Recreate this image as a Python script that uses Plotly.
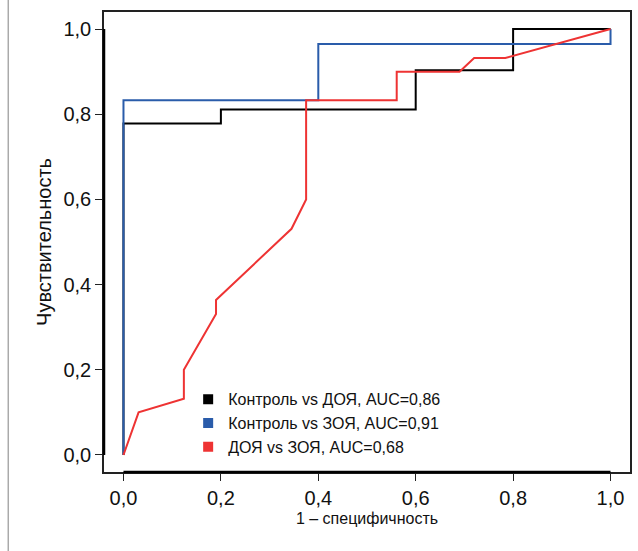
import plotly.graph_objects as go

# Контроль vs ДОЯ
fpr_k_doy = [0.0, 0.0, 0.2, 0.2, 0.6, 0.6, 0.8, 0.8, 1.0]
tpr_k_doy = [0.0, 0.778, 0.778, 0.811, 0.811, 0.903, 0.903, 1.0, 1.0]

# Контроль vs ЗОЯ
fpr_k_zoy = [0.0, 0.0, 0.4, 0.4, 1.0, 1.0]
tpr_k_zoy = [0.0, 0.833, 0.833, 0.965, 0.965, 1.0]

# ДОЯ vs ЗОЯ
fpr_doy_zoy = [0.0, 0.031, 0.124, 0.124, 0.19, 0.19, 0.345, 0.375, 0.375, 0.561, 0.561, 0.69, 0.72, 0.784, 1.0]
tpr_doy_zoy = [0.0, 0.1, 0.132, 0.2, 0.331, 0.364, 0.531, 0.6, 0.833, 0.833, 0.9, 0.9, 0.932, 0.932, 1.0]

names = ["Контроль vs ДОЯ, AUC=0,86", "Контроль vs ЗОЯ, AUC=0,91", "ДОЯ vs ЗОЯ, AUC=0,68"]
colors = ["#000000", "#2a5caa", "#ee3333"]

tick_vals = [0.0, 0.2, 0.4, 0.6, 0.8, 1.0]
tick_text = ["0,0", "0,2", "0,4", "0,6", "0,8", "1,0"]

FONT = "Liberation Sans, Arial, sans-serif"

fig = go.Figure()
series = [(fpr_k_doy, tpr_k_doy), (fpr_k_zoy, tpr_k_zoy), (fpr_doy_zoy, tpr_doy_zoy)]
for (xs, ys), c in zip(series, colors):
    fig.add_trace(go.Scatter(x=xs, y=ys, mode="lines", line=dict(color=c, width=2),
                             showlegend=False, hoverinfo="skip"))
for n, c in zip(names, colors):
    fig.add_trace(go.Scatter(x=[None], y=[None], mode="markers", name=n,
                             marker=dict(symbol="square", size=10, color=c)))

axis_common = dict(
    range=[-0.04, 1.04], tickvals=tick_vals, ticktext=tick_text,
    showgrid=False, zeroline=False, ticks="outside", ticklen=7, tickwidth=1.2,
    tickcolor="#222", showline=True, mirror=True, linecolor="#222", linewidth=1.5,
    tickfont=dict(size=20, color="#111", family=FONT),
)

fig.update_layout(
    width=638, height=551,
    margin=dict(l=104, r=6, t=12, b=79),
    paper_bgcolor="white", plot_bgcolor="white",
    font=dict(family=FONT, color="#111"),
    xaxis=dict(**axis_common, title=dict(text="1 – специфичность", font=dict(size=16, family=FONT), standoff=5)),
    yaxis=dict(**axis_common, title=dict(text="Чувствительность", font=dict(size=20, family=FONT), standoff=6)),
    legend=dict(x=0.16, y=0.195, xanchor="left", yanchor="top", bgcolor="rgba(0,0,0,0)",
                font=dict(size=16, family=FONT, color="#111"), itemwidth=30),
    shapes=[
        dict(type="line", xref="x", yref="y domain", x0=0, x1=1, y0=0, y1=0,
             line=dict(color="black", width=2.5)),
        dict(type="line", xref="x domain", yref="y", x0=0, x1=0, y0=0, y1=1,
             line=dict(color="black", width=2.5)),
        dict(type="line", xref="paper", yref="paper", x0=-0.182, x1=-0.182, y0=-0.18, y1=1.03,
             line=dict(color="#aaaaaa", width=1.5)),
    ],
)

fig.write_html("out.html")
